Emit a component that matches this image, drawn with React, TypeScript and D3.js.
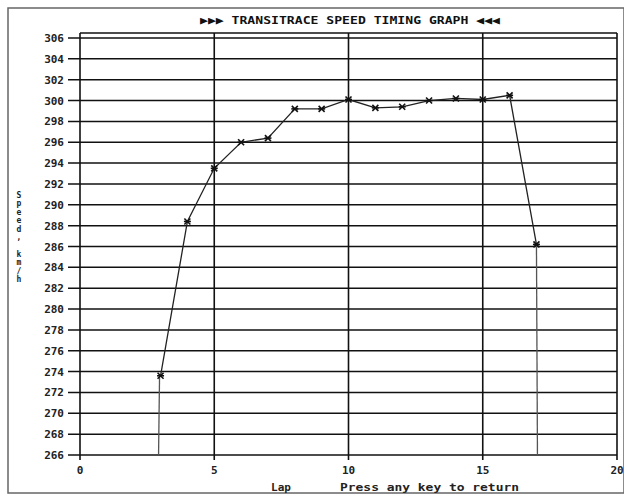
import React from "react";
import * as d3 from "d3";

const laps = [3, 4, 5, 6, 7, 8, 9, 10, 11, 12, 13, 14, 15, 16, 17];
const speeds = [273.6, 288.4, 293.5, 296.0, 296.4, 299.2, 299.2, 300.1, 299.3, 299.4, 300.0, 300.2, 300.1, 300.5, 286.2];
const yTicks = [266, 268, 270, 272, 274, 276, 278, 280, 282, 284, 286, 288, 290, 292, 294, 296, 298, 300, 302, 304, 306];
const xTicks = [0, 5, 10, 15, 20];
const title = "\u25B6\u25B6\u25B6 TRANSITRACE SPEED TIMING GRAPH \u25C0\u25C0\u25C0";
const yLabel = "Speed, km/h";

const W = 624, H = 495;
const L = 80, R = 617, T = 33, B = 455;

export default function App() {
  const x = d3.scaleLinear().domain([0, 20]).range([L, R]);
  const y = d3.scaleLinear().domain([266, 306]).range([B, 38]);
  const pts = laps.map((l, i) => [x(l), y(speeds[i])] as [number, number]);
  const line = d3.line()(pts) || "";
  const font = "'DejaVu Sans Mono', monospace";
  return (
    <svg width={W} height={H} style={{ position: "absolute", left: 0, top: 0, background: "#fff" }}>
      <rect x={0} y={0} width={W} height={H} fill="#fff" />
      <rect x={8} y={8} width={W - 8} height={H - 10} fill="none" stroke="#666" strokeWidth={1.5} />
      <text x={350} y={24} textAnchor="middle" fontFamily={font} fontWeight="bold" fontSize={11} fill="#111" textLength={300} lengthAdjust="spacingAndGlyphs">{title}</text>
      <line x1={L} x2={R} y1={T} y2={T} stroke="#111" strokeWidth={1.5} />
      {yTicks.map((t) => (
        <g key={t}>
          <line x1={68} x2={R} y1={y(t)} y2={y(t)} stroke="#111" strokeWidth={1.5} />
          <text x={64} y={y(t) + 4} textAnchor="end" fontFamily={font} fontWeight="bold" fontSize={11} fill="#222">{t}</text>
        </g>
      ))}
      {xTicks.map((t) => (
        <g key={t}>
          <line x1={x(t)} x2={x(t)} y1={T} y2={B + 5} stroke="#111" strokeWidth={1.6} />
          <text x={x(t)} y={474} textAnchor="middle" fontFamily={font} fontWeight="bold" fontSize={11} fill="#222">{t}</text>
        </g>
      ))}
      <line x1={pts[0][0] - 1} x2={pts[0][0] - 2} y1={pts[0][1]} y2={B} stroke="#555" strokeWidth={1.3} />
      <line x1={pts[pts.length - 1][0]} x2={pts[pts.length - 1][0] + 1} y1={pts[pts.length - 1][1]} y2={B} stroke="#555" strokeWidth={1.3} />
      <path d={line} fill="none" stroke="#222" strokeWidth={1.3} />
      {pts.map(([px, py], i) => (
        <g key={i} stroke="#111" strokeWidth={1.6}>
          <line x1={px - 3} x2={px + 3} y1={py - 3} y2={py + 3} />
          <line x1={px - 3} x2={px + 3} y1={py + 3} y2={py - 3} />
          <line x1={px - 3.5} x2={px + 3.5} y1={py} y2={py} />
        </g>
      ))}
      {yLabel.split("").map((c, i) => (
        <text key={i} x={19} y={198 + i * 8.4} textAnchor="middle" fontFamily={font} fontWeight="bold" fontSize={8} fill="#222">{c}</text>
      ))}
      <text x={281} y={491} textAnchor="middle" fontFamily={font} fontWeight="bold" fontSize={11} fill="#222">Lap</text>
      <text x={340} y={491} fontFamily={font} fontWeight="bold" fontSize={11} fill="#222" textLength={179} lengthAdjust="spacingAndGlyphs">Press any key to return</text>
    </svg>
  );
}
